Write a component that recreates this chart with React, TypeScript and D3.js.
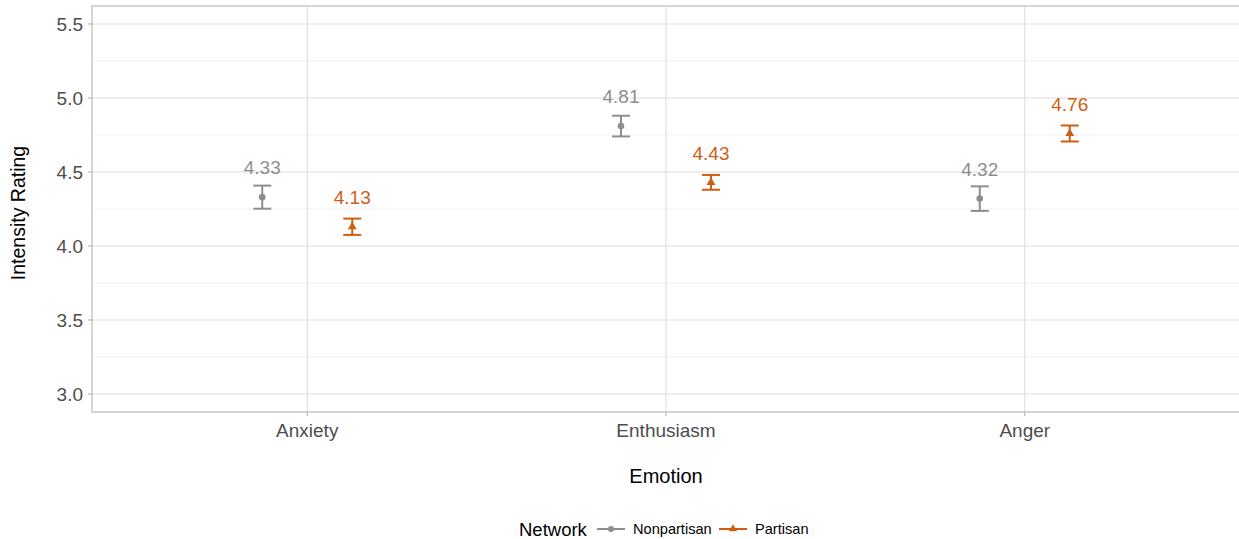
import React from "react";
import * as d3 from "d3";

// Emotion categories and network groups
const emotions = ["Anxiety", "Enthusiasm", "Anger"];
const networks = ["Nonpartisan", "Partisan"];

// Mean intensity ratings per network, in emotion order
const nonpartisanMeans = [4.33, 4.81, 4.32];
const partisanMeans = [4.13, 4.43, 4.76];

// Standard errors per network, in emotion order
const nonpartisanSE = [0.078, 0.07, 0.083];
const partisanSE = [0.055, 0.05, 0.054];

const yTicks = [3.0, 3.5, 4.0, 4.5, 5.0, 5.5];
const yMinor = [3.25, 3.75, 4.25, 4.75, 5.25];

const colors: Record<string, string> = {
  Nonpartisan: "#8e8e8e",
  Partisan: "#d05d14",
};

const W = 1239;
const H = 539;
const FONT = "'Liberation Sans', Arial, Helvetica, sans-serif";

export default function App() {
  const panel = { left: 92, right: 1240, top: 6, bottom: 412 };

  // ggplot-style discrete expansion: centers 0.6 step in from the edges
  const step = (panel.right - panel.left) / (emotions.length - 1 + 1.2);
  const cx = (e: string) => panel.left + step * (0.6 + emotions.indexOf(e));

  const y = d3.scaleLinear().domain([2.8785, 5.6213]).range([panel.bottom, panel.top]);

  const dodge = 45;
  const rows = emotions.flatMap((e, i) => [
    { emotion: e, network: "Nonpartisan", mean: nonpartisanMeans[i], se: nonpartisanSE[i], off: -dodge },
    { emotion: e, network: "Partisan", mean: partisanMeans[i], se: partisanSE[i], off: dodge },
  ]);

  const capHalf = 9;
  const tri = d3.symbol(d3.symbolTriangle, 34)() as string;

  return (
    <svg
      width={W}
      height={H}
      viewBox={`0 0 ${W} ${H}`}
      style={{ position: "absolute", left: 0, top: 0, background: "#fff", fontFamily: FONT }}
    >
      {/* minor grid */}
      {yMinor.map((v) => (
        <line key={"mn" + v} x1={panel.left} x2={panel.right} y1={y(v)} y2={y(v)} stroke="#ededed" strokeWidth={0.8} />
      ))}
      {/* major grid */}
      {yTicks.map((v) => (
        <line key={"mj" + v} x1={panel.left} x2={panel.right} y1={y(v)} y2={y(v)} stroke="#dedede" strokeWidth={1.1} />
      ))}
      {emotions.map((e) => (
        <line key={"vx" + e} x1={cx(e)} x2={cx(e)} y1={panel.top} y2={panel.bottom} stroke="#dedede" strokeWidth={1.1} />
      ))}
      {/* panel border */}
      <rect
        x={panel.left}
        y={panel.top}
        width={panel.right - panel.left}
        height={panel.bottom - panel.top}
        fill="none"
        stroke="#b3b3b3"
        strokeWidth={1.1}
      />

      {/* y axis ticks and labels */}
      {yTicks.map((v) => (
        <g key={"yt" + v}>
          <line x1={panel.left - 4} x2={panel.left} y1={y(v)} y2={y(v)} stroke="#b3b3b3" strokeWidth={1.1} />
          <text x={panel.left - 9} y={y(v)} dy="0.36em" textAnchor="end" fontSize={19} fill="#4d4d4d">
            {d3.format(".1f")(v)}
          </text>
        </g>
      ))}
      {/* x axis ticks and labels */}
      {emotions.map((e) => (
        <g key={"xt" + e}>
          <line x1={cx(e)} x2={cx(e)} y1={panel.bottom} y2={panel.bottom + 4} stroke="#b3b3b3" strokeWidth={1.1} />
          <text x={cx(e)} y={panel.bottom + 18} dy="0.36em" textAnchor="middle" fontSize={19} fill="#4d4d4d">
            {e}
          </text>
        </g>
      ))}

      {/* axis titles */}
      <text x={666} y={476} dy="0.36em" textAnchor="middle" fontSize={20} fill="#000">
        Emotion
      </text>
      <text
        transform={`translate(18, ${213}) rotate(-90)`}
        dy="0.36em"
        textAnchor="middle"
        fontSize={19.5}
        fill="#000"
      >
        Intensity Rating
      </text>

      {/* error bars, points and value labels */}
      {rows.map((r) => {
        const px = cx(r.emotion) + r.off;
        const c = colors[r.network];
        const top = y(r.mean + r.se);
        const bot = y(r.mean - r.se);
        return (
          <g key={r.emotion + r.network}>
            <line x1={px} x2={px} y1={top} y2={bot} stroke={c} strokeWidth={2} />
            <line x1={px - capHalf} x2={px + capHalf} y1={top} y2={top} stroke={c} strokeWidth={2} />
            <line x1={px - capHalf} x2={px + capHalf} y1={bot} y2={bot} stroke={c} strokeWidth={2} />
            {r.network === "Nonpartisan" ? (
              <circle cx={px} cy={y(r.mean)} r={3.3} fill={c} />
            ) : (
              <path d={tri} transform={`translate(${px},${y(r.mean)})`} fill={c} />
            )}
            <text x={px} y={y(r.mean + 0.2)} dy="0.36em" textAnchor="middle" fontSize={19} fill={c}>
              {d3.format(".2f")(r.mean)}
            </text>
          </g>
        );
      })}

      {/* legend */}
      <g transform="translate(0,529)">
        <text x={519} y={0} dy="0.36em" fontSize={18.5} fill="#000">
          Network
        </text>
        {networks.map((n, i) => {
          const kx = i === 0 ? 597 : 719;
          const c = colors[n];
          return (
            <g key={"lg" + n}>
              <line x1={kx} x2={kx + 28} y1={0} y2={0} stroke={c} strokeWidth={2} />
              {n === "Nonpartisan" ? (
                <circle cx={kx + 14} cy={0} r={3} fill={c} />
              ) : (
                <path d={d3.symbol(d3.symbolTriangle, 28)() as string} transform={`translate(${kx + 14},0)`} fill={c} />
              )}
              <text x={kx + 36} y={0} dy="0.36em" fontSize={14.6} fill="#000">
                {n}
              </text>
            </g>
          );
        })}
      </g>
    </svg>
  );
}
